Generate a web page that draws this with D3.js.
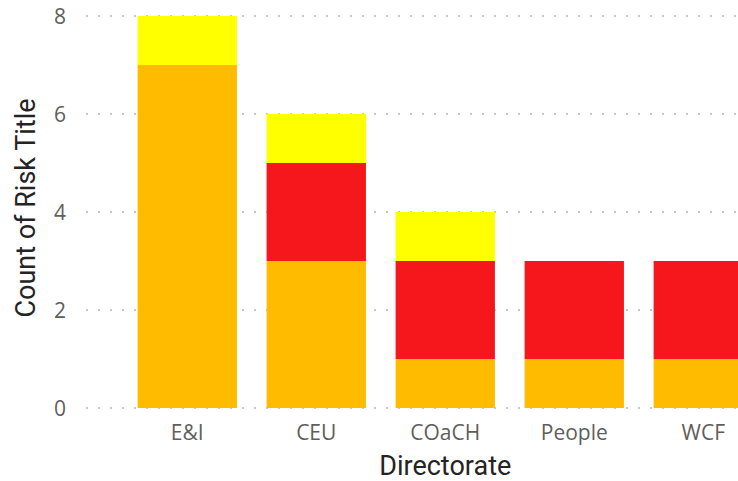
<!DOCTYPE html>
<html>
<head>
  <script src="https://d3js.org/d3.v7.min.js"></script>
  <style>
  body { margin: 0; background: white; }
  svg { display: block; overflow: hidden; }
  </style>
</head>
<body>
<svg id="chart" width="738" height="481"></svg>
<script>
// data
var directorates = ["E&I", "CEU", "COaCH", "People", "WCF"];
var amber = [7, 3, 1, 1, 1];
var red = [0, 2, 2, 2, 2];
var yellow = [1, 1, 1, 0, 0];
var yTicks = [0, 2, 4, 6, 8];

var seriesKeys = ["amber", "red", "yellow"];
var colours = {amber: "#FFBB00", red: "#F5171B", yellow: "#FFFF00"};

var rows = directorates.map(function(d, i) {
  return {dir: d, amber: amber[i], red: red[i], yellow: yellow[i]};
});

var svg = d3.select("#chart");
var font = "'Segoe UI', 'Open Sans', 'Noto Sans', sans-serif";
var titleFont = "Roboto, 'DejaVu Sans', sans-serif";

var plotLeft = 86, step = 129;
var xs = d3.scaleBand()
  .domain(directorates)
  .range([plotLeft, plotLeft + step * (5 - 0.23 + 0.8)])
  .paddingInner(0.23)
  .paddingOuter(0.4);
var ys = d3.scaleLinear().domain([0, 8]).range([408, 16]);

// dotted gridlines
svg.append("g")
  .selectAll("line").data(yTicks).enter().append("line")
  .attr("x1", plotLeft)
  .attr("x2", 738)
  .attr("y1", function(d) { return ys(d); })
  .attr("y2", function(d) { return ys(d); })
  .attr("stroke", "#c8c8c8")
  .attr("stroke-width", 2)
  .attr("stroke-dasharray", "2,10");

// stacked bars
var stack = d3.stack().keys(seriesKeys)(rows);
svg.append("g")
  .selectAll("g").data(stack).enter().append("g")
  .attr("fill", function(s) { return colours[s.key]; })
  .selectAll("rect").data(function(s) { return s; }).enter().append("rect")
  .attr("x", function(d) { return xs(d.data.dir); })
  .attr("width", xs.bandwidth())
  .attr("y", function(d) { return ys(d[1]); })
  .attr("height", function(d) { return ys(d[0]) - ys(d[1]); });

// y tick labels
svg.append("g")
  .selectAll("text").data(yTicks).enter().append("text")
  .attr("x", 66)
  .attr("y", function(d) { return ys(d); })
  .attr("dy", "0.36em")
  .attr("text-anchor", "end")
  .style("font-family", font)
  .style("font-size", "21px")
  .style("fill", "#605E5C")
  .text(function(d) { return d; });

// x tick labels
svg.append("g")
  .selectAll("text").data(directorates).enter().append("text")
  .attr("x", function(d) { return xs(d) + xs.bandwidth() / 2; })
  .attr("y", 440)
  .attr("text-anchor", "middle")
  .style("font-family", font)
  .style("font-size", "21px")
  .style("fill", "#605E5C")
  .text(function(d) { return d; });

// axis titles
svg.append("text")
  .attr("x", (xs.range()[0] + xs.range()[1]) / 2)
  .attr("y", 475)
  .attr("text-anchor", "middle")
  .style("font-family", titleFont)
  .style("font-size", "27px")
  .style("fill", "#252423")
  .text("Directorate");

svg.append("text")
  .attr("transform", "translate(35,208) rotate(-90)")
  .attr("text-anchor", "middle")
  .style("font-family", titleFont)
  .style("font-size", "27px")
  .style("fill", "#252423")
  .text("Count of Risk Title");
</script>
</body>
</html>
